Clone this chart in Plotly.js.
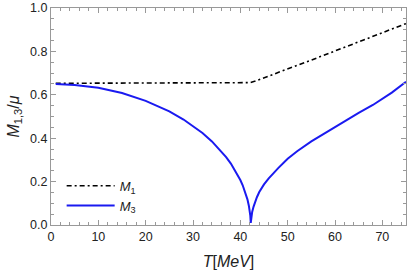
<!DOCTYPE html>
<html><head><meta charset="utf-8">
<script src="https://cdn.plot.ly/plotly-3.0.1.min.js"></script>
<style>html,body{margin:0;padding:0;background:#fff}#plot{width:409px;height:275px}</style>
</head><body><div id="plot"></div>
<script>
const T1 = [1, 10, 20, 30, 40, 42, 43, 44, 46, 50, 55, 60, 65, 70, 75];
const M1 = [0.653, 0.653, 0.653, 0.653, 0.654, 0.656, 0.662, 0.670, 0.686, 0.718, 0.760, 0.802, 0.844, 0.886, 0.928];

const T3 = [1, 5, 10, 15, 20, 25, 28, 30, 32, 34, 36, 37, 38, 39, 40, 40.5, 41, 41.5, 41.8, 42, 42.1, 42.2,
            42.3, 42.5, 42.8, 43, 43.5, 44, 45, 46, 47, 48, 50, 52, 55, 58, 60, 62, 65, 68, 70, 72, 75];
const M3 = [0.650, 0.645, 0.632, 0.608, 0.572, 0.524, 0.486, 0.457, 0.424, 0.385, 0.339, 0.313, 0.283, 0.248, 0.207, 0.183, 0.154, 0.118, 0.089, 0.064, 0.045, 0.01,
            0.035, 0.06, 0.085, 0.1, 0.128, 0.152, 0.187, 0.215, 0.24, 0.262, 0.305, 0.34, 0.385, 0.425, 0.452, 0.478, 0.517, 0.553, 0.58, 0.61, 0.66];

const xTicks = [0, 10, 20, 30, 40, 50, 60, 70];
const yTicks = [0.0, 0.2, 0.4, 0.6, 0.8, 1.0];
const yTickText = ['0.0', '0.2', '0.4', '0.6', '0.8', '1.0'];

const traces = [
  {x: T1, y: M1, mode: 'lines', name: '<i>M</i><sub>1</sub>',
   line: {color: '#000', width: 1.6, dash: '5px,3px,2px,3px'}},
  {x: T3, y: M3, mode: 'lines', name: '<i>M</i><sub>3</sub>',
   line: {color: '#1a1af0', width: 2}}
];

const FONT = 'Liberation Sans, Arial, sans-serif';
const axisCommon = {
  showgrid: false, zeroline: false, showline: true, linecolor: '#999', linewidth: 1,
  mirror: 'allticks', ticks: 'inside', ticklen: 5, tickcolor: '#999', tickwidth: 1,
  tickfont: {family: FONT, size: 12.5, color: '#222'},
  minor: {ticks: 'inside', ticklen: 3, tickcolor: '#999', tickwidth: 1}
};

const layout = {
  width: 409, height: 275,
  margin: {l: 51, r: 3, t: 8, b: 50},
  paper_bgcolor: '#fff', plot_bgcolor: '#fff',
  showlegend: true,
  legend: {x: 0.03, y: 0.25, xanchor: 'left', yanchor: 'top', bgcolor: 'rgba(0,0,0,0)',
           font: {family: FONT, size: 13, color: '#222'},
           itemwidth: 48, tracegroupgap: 4},
  xaxis: Object.assign({}, axisCommon, {
    range: [0, 75], tickvals: xTicks,
    minor: Object.assign({}, axisCommon.minor, {dtick: 2, tick0: 0}),
    title: {text: '<i>T</i>[<i>MeV</i>]', font: {family: FONT, size: 16, color: '#222'}, standoff: 12}
  }),
  yaxis: Object.assign({}, axisCommon, {
    range: [0, 1.0], tickvals: yTicks, ticktext: yTickText,
    minor: Object.assign({}, axisCommon.minor, {dtick: 0.05, tick0: 0}),
    title: {text: '<i>M</i><sub>1,3</sub>/<i>μ</i>', font: {family: FONT, size: 16, color: '#222'}, standoff: 6}
  })
};

Plotly.newPlot('plot', traces, layout, {displayModeBar: false, staticPlot: true});
</script>
</body></html>
